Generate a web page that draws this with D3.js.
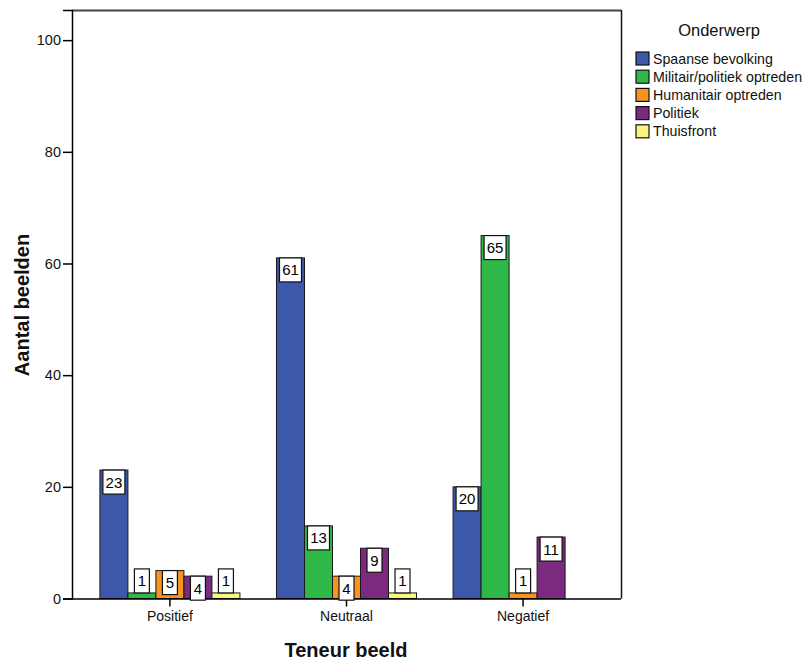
<!DOCTYPE html>
<html>
<head>
<meta charset="utf-8">
<script src="https://cdn.jsdelivr.net/npm/d3@7"></script>
<style>
  html, body { margin: 0; padding: 0; background: #fff; }
  svg { display: block; font-family: "Liberation Sans", Arial, sans-serif; }
</style>
</head>
<body>
<svg id="chart" width="804" height="660"></svg>
<script>
const categories = ["Positief", "Neutraal", "Negatief"];
const seriesNames = ["Spaanse bevolking", "Militair/politiek optreden", "Humanitair optreden", "Politiek", "Thuisfront"];
const spaanseBevolking = [23, 61, 20];
const militairPolitiek = [1, 13, 65];
const humanitair = [5, 4, 1];
const politiek = [4, 9, 11];
const thuisfront = [1, 1, 0];
const seriesColors = ["#3d58ab", "#2eb848", "#f7941e", "#7b2a7f", "#fbf57f"];
const yTicks = [0, 20, 40, 60, 80, 100];

const seriesValues = [spaanseBevolking, militairPolitiek, humanitair, politiek, thuisfront];

(function () {
const FONT = "'Liberation Sans', Arial, sans-serif";
const svg = d3.select("#chart");
const pLeft = 72, pRight = 621, pTop = 10, pBottom = 598.5;

const y = d3.scaleLinear().domain([0, 105.4]).range([pBottom, pTop]);
const x0 = d3.scaleBand().domain(categories).range([pLeft, pRight]).paddingInner(0.207).paddingOuter(0.158);
const x1 = d3.scaleBand().domain(seriesNames).range([0, x0.bandwidth()]);
const color = d3.scaleOrdinal().domain(seriesNames).range(seriesColors);

// frame
svg.append("line").attr("x1", pLeft).attr("x2", pRight).attr("y1", pTop + 0.5).attr("y2", pTop + 0.5)
  .attr("stroke", "#444").attr("stroke-width", 2);
svg.append("line").attr("x1", pRight + 0.5).attr("x2", pRight + 0.5).attr("y1", pTop).attr("y2", pBottom)
  .attr("stroke", "#111").attr("stroke-width", 1.5);

// bars
const rows = [];
categories.forEach((c, ci) => {
  seriesNames.forEach((s, si) => {
    rows.push({ cat: c, ser: s, val: seriesValues[si][ci] });
  });
});
const barData = rows.filter(d => d.val > 0);

svg.append("g").selectAll("rect").data(barData).join("rect")
  .attr("x", d => x0(d.cat) + x1(d.ser))
  .attr("y", d => y(d.val))
  .attr("width", x1.bandwidth())
  .attr("height", d => y(0) - y(d.val))
  .attr("fill", d => color(d.ser))
  .attr("stroke", "#1a1a1a")
  .attr("stroke-width", 1);

// y axis
const yAxis = d3.axisLeft(y).tickValues(yTicks).tickSize(9).tickPadding(2);
const gy = svg.append("g").attr("transform", `translate(${pLeft},0)`).call(yAxis);
gy.select(".domain").attr("stroke", "#000").attr("stroke-width", 1.5);
gy.selectAll(".tick line").attr("stroke", "#000").attr("stroke-width", 1.5);
gy.selectAll(".tick text").attr("font-size", 14.5).attr("font-family", FONT).attr("fill", "#111");

// x axis
const xAxis = d3.axisBottom(x0).tickSize(8).tickPadding(5);
const gx = svg.append("g").attr("transform", `translate(0,${pBottom})`).call(xAxis);
gx.select(".domain").attr("stroke", "#000").attr("stroke-width", 1.5).attr("d", `M${pLeft},0.5H${pRight}`);
gx.selectAll(".tick line").attr("stroke", "#000").attr("stroke-width", 1.5);
gx.selectAll(".tick text").attr("font-size", 14).attr("font-family", FONT).attr("fill", "#111");

// value labels
const boxH = 24;
const labels = svg.append("g").selectAll("g").data(barData).join("g");
labels.each(function(d) {
  const g = d3.select(this);
  const cx = x0(d.cat) + x1(d.ser) + x1.bandwidth() / 2;
  const txt = String(d.val);
  const w = txt.length === 1 ? 15 : 22;
  const barTop = y(d.val);
  const barH = y(0) - barTop;
  const ty = barH < boxH / 2 ? barTop - boxH : barTop;
  g.append("rect")
    .attr("x", cx - w / 2).attr("y", ty)
    .attr("width", w).attr("height", boxH)
    .attr("fill", "#fff").attr("stroke", "#111").attr("stroke-width", 1.2);
  g.append("text")
    .attr("x", cx).attr("y", ty + boxH / 2 + 5.5)
    .attr("text-anchor", "middle")
    .attr("font-size", 15).attr("fill", "#000")
    .text(txt);
});

// axis titles
svg.append("text")
  .attr("transform", `translate(29,${305}) rotate(-90)`)
  .attr("text-anchor", "middle")
  .attr("font-size", 20).attr("font-weight", "bold").attr("fill", "#111")
  .text("Aantal beelden");
svg.append("text")
  .attr("x", 346).attr("y", 657)
  .attr("text-anchor", "middle")
  .attr("font-size", 20).attr("font-weight", "bold").attr("fill", "#111")
  .text("Teneur beeld");

// legend
const lg = svg.append("g");
lg.append("text").attr("x", 719).attr("y", 36).attr("text-anchor", "middle")
  .attr("font-size", 16.5).attr("fill", "#111").text("Onderwerp");
const items = lg.selectAll("g.item").data(seriesNames).join("g").attr("class", "item")
  .attr("transform", (d, i) => `translate(636,${52 + i * 18.2})`);
items.append("rect").attr("width", 13).attr("height", 13)
  .attr("fill", d => color(d)).attr("stroke", "#111").attr("stroke-width", 1.2);
items.append("text").attr("x", 17).attr("y", 11.5)
  .attr("font-size", 14.2).attr("fill", "#111").text(d => d);
})();
</script>
</body>
</html>
